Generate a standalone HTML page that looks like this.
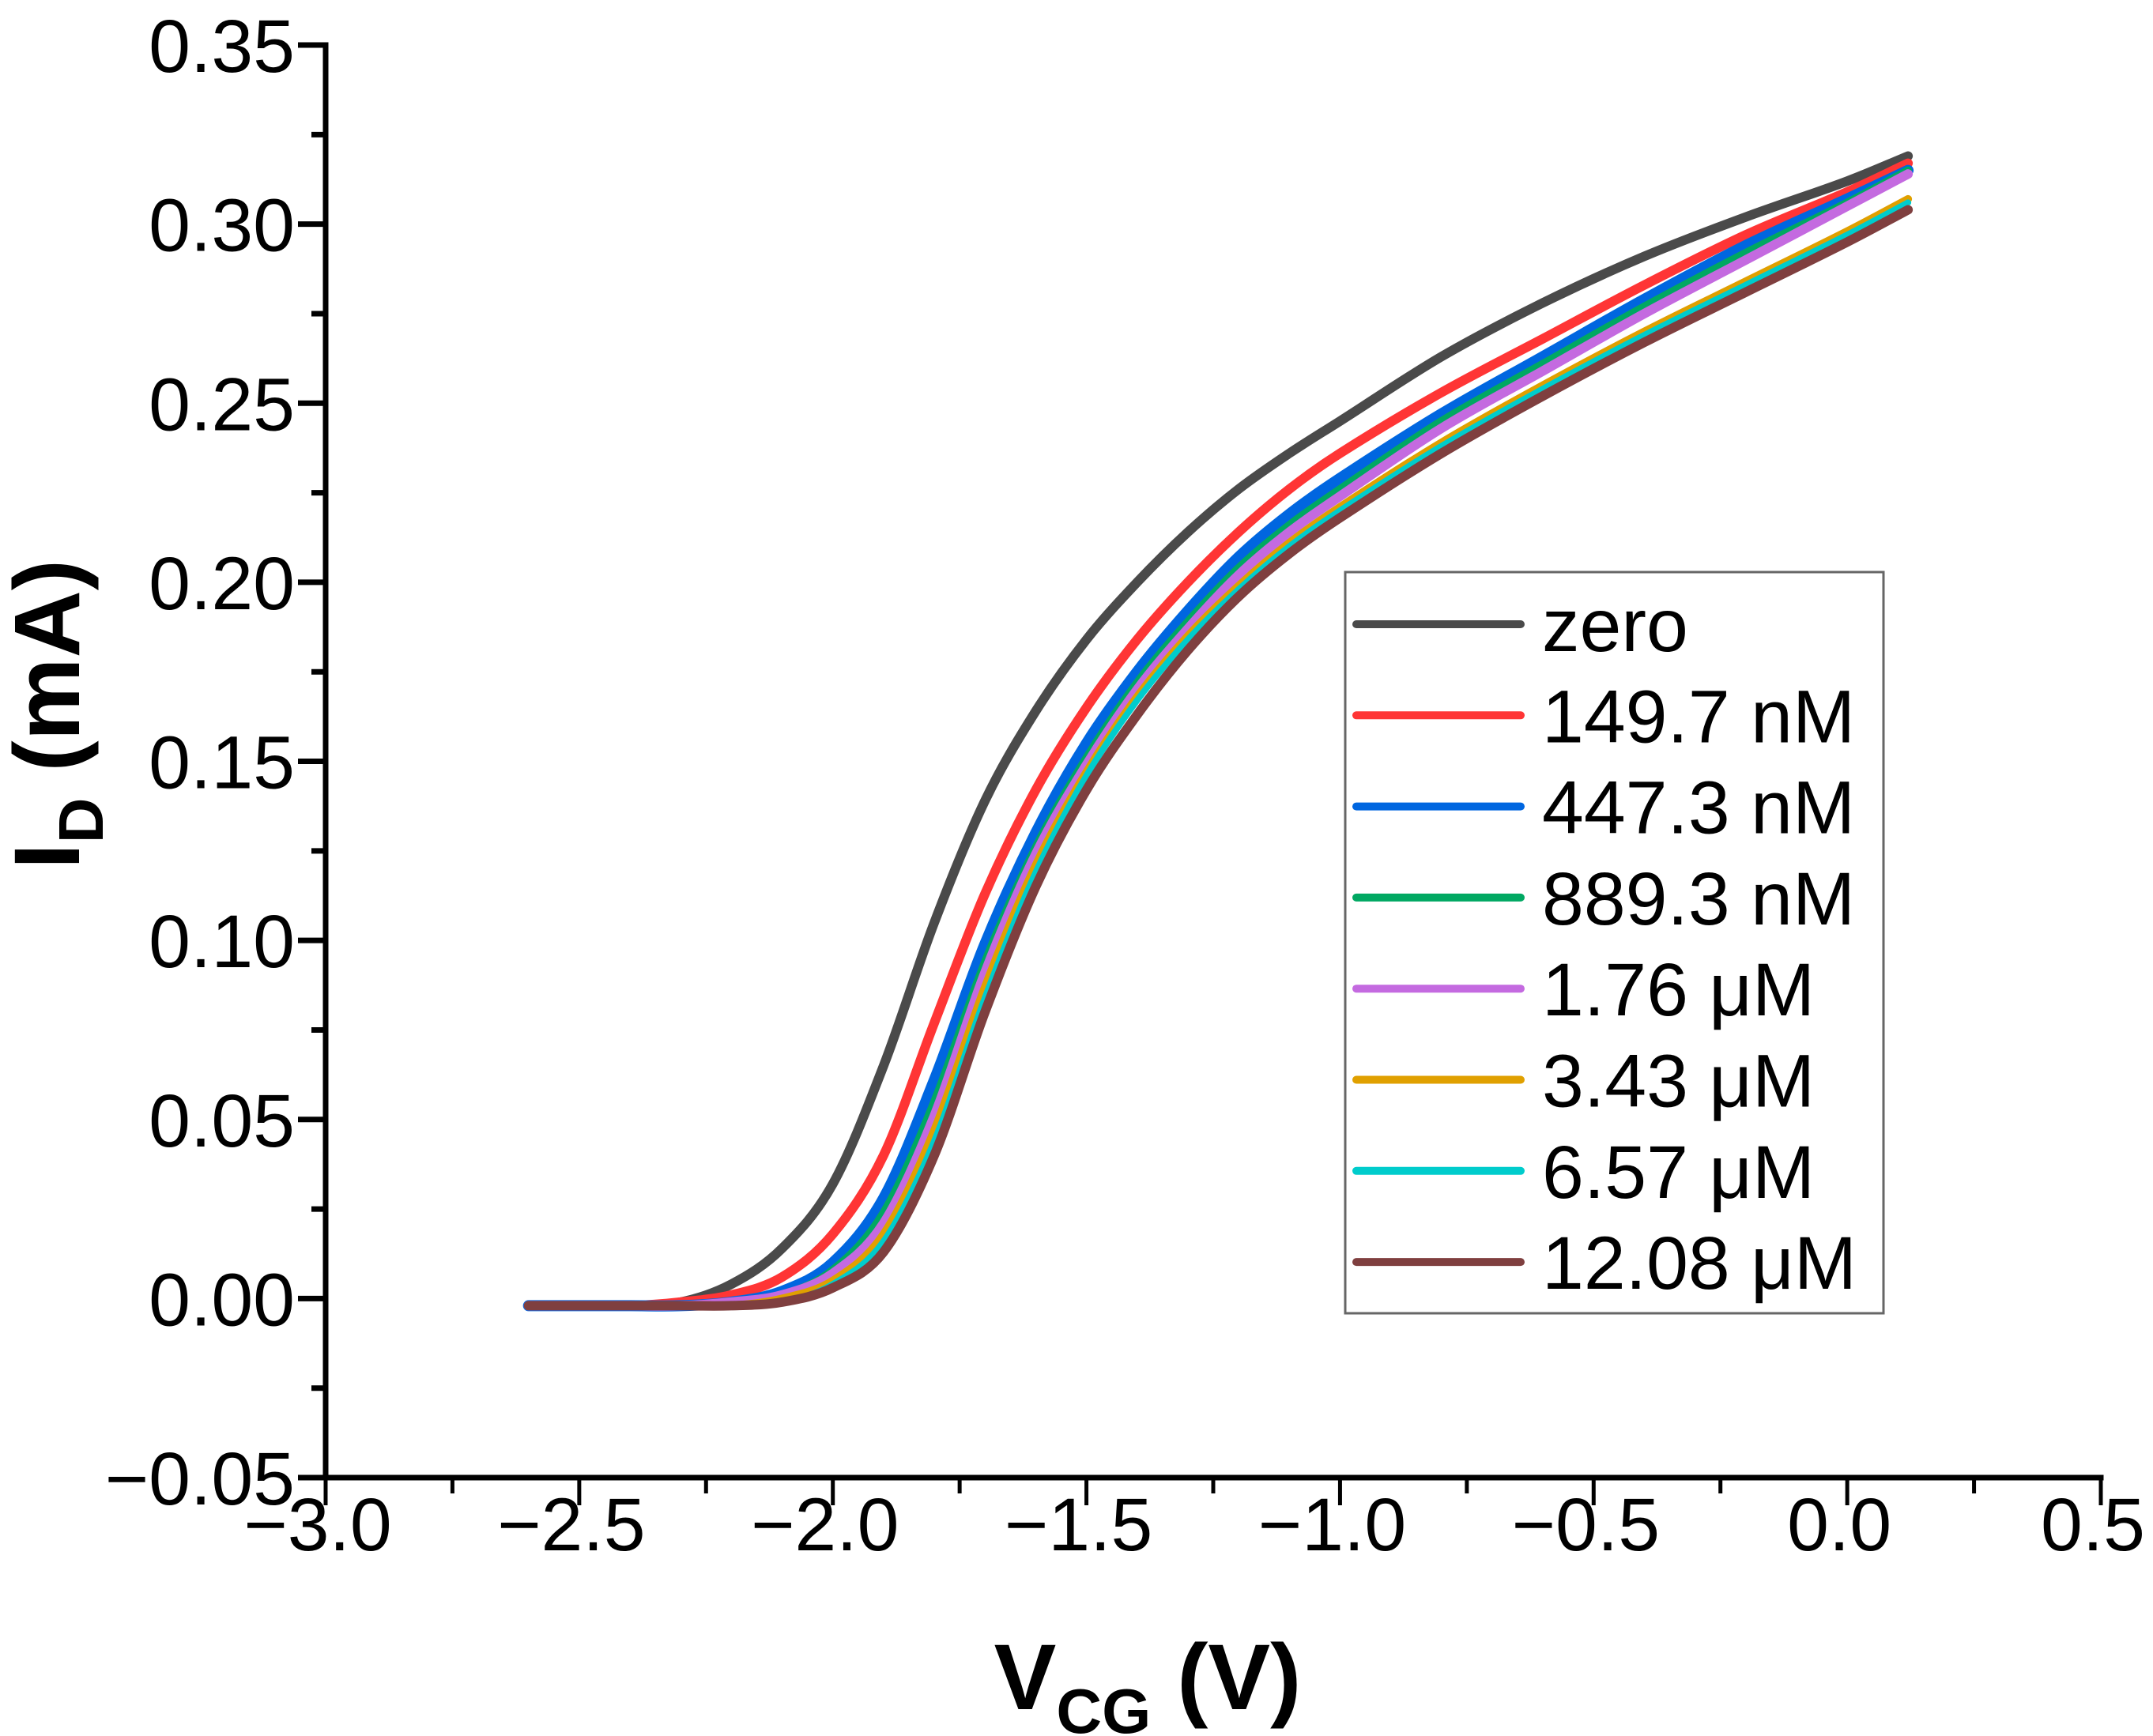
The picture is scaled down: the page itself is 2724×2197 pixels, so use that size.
<!DOCTYPE html>
<html><head><meta charset="utf-8"><style>
html,body{margin:0;padding:0;background:#fff;}
svg{display:block;font-family:"Liberation Sans",Arial,sans-serif;}
</style></head><body>
<svg id="chart" width="2724" height="2197" viewBox="0 0 2724 2197" xmlns="http://www.w3.org/2000/svg">
<g id="series"></g>
<g id="axes"></g>
<text transform="translate(100,1100) rotate(-90)" font-size="118" font-weight="bold">I<tspan font-size="80" dy="30">D</tspan><tspan dy="-30"> (mA)</tspan></text>
<text x="1452" y="2163" text-anchor="middle" font-size="118" font-weight="bold">V<tspan font-size="80" dy="30">CG</tspan><tspan dy="-30"> (V)</tspan></text>
<g id="legend">
<rect x="1702" y="724" width="681" height="938" fill="#fff" stroke="#666" stroke-width="3"/>
</g>
</svg>
<script>
const xs = [-2.6,-2.4,-2.3,-2.2,-2.1,-2.0,-1.9,-1.8,-1.7,-1.6,-1.5,-1.4,-1.3,-1.2,-1.1,-1.0,-0.8,-0.6,-0.4,-0.2,0,0.12];
const seriesNames = ["zero","149.7 nM","447.3 nM","889.3 nM","1.76 μM","3.43 μM","6.57 μM","12.08 μM"];
const yZero   = [-0.002,-0.002,-0.001,0.004,0.014,0.032,0.065,0.105,0.139,0.164,0.184,0.200,0.214,0.226,0.236,0.245,0.263,0.278,0.291,0.302,0.312,0.319];
const yRed    = [-0.002,-0.002,-0.001,0.001,0.006,0.018,0.040,0.077,0.113,0.142,0.165,0.184,0.200,0.214,0.226,0.236,0.253,0.268,0.283,0.297,0.309,0.317];
const yBlue   = [-0.002,-0.002,-0.002,-0.001,0.002,0.010,0.028,0.061,0.099,0.130,0.155,0.175,0.192,0.207,0.219,0.229,0.247,0.263,0.279,0.294,0.307,0.315];
const yGreen  = [-0.002,-0.002,-0.002,-0.001,0.001,0.008,0.024,0.055,0.094,0.126,0.151,0.172,0.189,0.204,0.216,0.226,0.245,0.261,0.277,0.292,0.306,0.315];
const yPurple = [-0.002,-0.002,-0.002,-0.001,0.001,0.007,0.021,0.051,0.091,0.124,0.149,0.170,0.187,0.202,0.214,0.224,0.243,0.259,0.275,0.290,0.305,0.314];
const yOrange = [-0.002,-0.002,-0.002,-0.002,0.000,0.005,0.018,0.047,0.087,0.121,0.147,0.168,0.185,0.199,0.211,0.221,0.239,0.255,0.270,0.284,0.298,0.307];
const yCyan   = [-0.002,-0.002,-0.002,-0.002,-0.001,0.004,0.016,0.044,0.084,0.119,0.146,0.167,0.184,0.198,0.210,0.220,0.238,0.254,0.269,0.283,0.297,0.306];
const yBrown  = [-0.002,-0.002,-0.002,-0.002,-0.001,0.003,0.013,0.040,0.080,0.115,0.142,0.163,0.181,0.196,0.208,0.218,0.236,0.252,0.267,0.281,0.295,0.304];
const xTicks = [-3.0,-2.5,-2.0,-1.5,-1.0,-0.5,0.0,0.5];
const xTickLabels = ["−3.0","−2.5","−2.0","−1.5","−1.0","−0.5","0.0","0.5"];
const yTicks = [-0.05,0,0.05,0.10,0.15,0.20,0.25,0.30,0.35];
const yTickLabels = ["−0.05","0.00","0.05","0.10","0.15","0.20","0.25","0.30","0.35"];

const NS="http://www.w3.org/2000/svg";
const X0=412, X1=2658, XMIN=-3, XMAX=0.5;
const Y0=1870, Y1=57, YMIN=-0.05, YMAX=0.35;
function sx(v){return X0+(v-XMIN)/(XMAX-XMIN)*(X1-X0);}
function sy(v){return Y0-(v-YMIN)/(YMAX-YMIN)*(Y0-Y1);}
function mk(tag,attrs,parent){const e=document.createElementNS(NS,tag);for(const k in attrs)e.setAttribute(k,attrs[k]);parent.appendChild(e);return e;}

const allY=[yZero,yRed,yBlue,yGreen,yPurple,yOrange,yCyan,yBrown];
const colors=["#4a4a4a","#ff3535","#0066e0","#00a862","#c46ae0","#e0a000","#00cccc","#7f3f3f"];
const widths=[12,12,14,10,12,10,8,12];
const sg=document.getElementById('series');
function pathFor(ys){
  const p=xs.map((x,i)=>[sx(x),sy(ys[i])]);
  let d="M"+p[0][0].toFixed(1)+","+p[0][1].toFixed(1);
  for(let i=0;i<p.length-1;i++){
    const a=p[Math.max(i-1,0)],b=p[i],c=p[i+1],e=p[Math.min(i+2,p.length-1)];
    const h=c[0]-b[0];
    const m1=(c[1]-a[1])/((c[0]-a[0])||1), m2=(e[1]-b[1])/((e[0]-b[0])||1);
    const c1=[b[0]+h/3,b[1]+m1*h/3];
    const c2=[c[0]-h/3,c[1]-m2*h/3];
    d+=" C"+c1[0].toFixed(1)+","+c1[1].toFixed(1)+" "+c2[0].toFixed(1)+","+c2[1].toFixed(1)+" "+c[0].toFixed(1)+","+c[1].toFixed(1);
  }
  return d;
}
allY.forEach((ys,i)=>{
  const el=mk('path',{d:pathFor(ys),fill:"none",stroke:colors[i],"stroke-width":widths[i],"stroke-linecap":"round","stroke-linejoin":"round"},sg);
  
  
});

const ax=document.getElementById('axes');
const yl=mk('line',{x1:X0,y1:Y1,x2:X0,y2:Y0,stroke:"#000","stroke-width":7,"stroke-linecap":"square"},ax);


const xl=mk('line',{x1:X0,y1:Y0,x2:X1,y2:Y0,stroke:"#000","stroke-width":7,"stroke-linecap":"square"},ax);


yTicks.forEach((v,i)=>{
  const y=sy(v);
  const t=mk('line',{x1:X0-35,y1:y,x2:X0,y2:y,stroke:"#000","stroke-width":7},ax);
  
  
  const lb=mk('text',{x:373,y:y+34,"text-anchor":"end","font-size":95},ax);
  lb.textContent=yTickLabels[i];
  
  
  if(i<yTicks.length-1){
    const m=mk('line',{x1:X0-18,y1:sy(v+0.025),x2:X0,y2:sy(v+0.025),stroke:"#000","stroke-width":7},ax);
    
    
  }
});
xTicks.forEach((v,i)=>{
  const x=sx(v);
  const t=mk('line',{x1:x,y1:Y0,x2:x,y2:Y0+35,stroke:"#000","stroke-width":5},ax);
  
  
  const lb=mk('text',{x:x-10,y:1962,"text-anchor":"middle","font-size":95},ax);
  lb.textContent=xTickLabels[i];
  
  
  if(i<xTicks.length-1){
    const m=mk('line',{x1:sx(v+0.25),y1:Y0,x2:sx(v+0.25),y2:Y0+20,stroke:"#000","stroke-width":5},ax);
    
    
  }
});

const lg=document.getElementById('legend');
seriesNames.forEach((n,i)=>{
  const y=790+i*115.3;
  const l=mk('line',{x1:1716,y1:y,x2:1924,y2:y,stroke:colors[i],"stroke-width":10,"stroke-linecap":"round"},lg);
  
  
  const t=mk('text',{x:1951,y:y+34,"font-size":95},lg);
  t.textContent=n;
  
  
});
</script>
</body></html>
